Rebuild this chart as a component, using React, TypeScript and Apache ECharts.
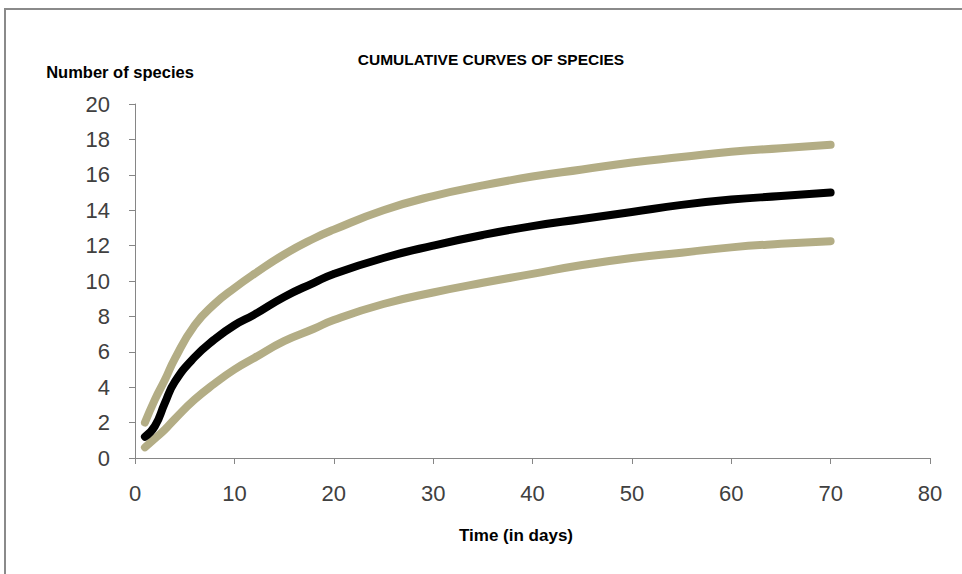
import React, { useEffect, useRef } from "react";
import * as echarts from "echarts";

const days = [1, 2, 3, 4, 6, 8, 10, 12, 15, 18, 20, 25, 30, 35, 40, 45, 50, 55, 60, 65, 70];
const upperValues = [2.0, 3.3, 4.4, 5.6, 7.5, 8.7, 9.6, 10.4, 11.5, 12.4, 12.9, 14.0, 14.8, 15.4, 15.9, 16.3, 16.7, 17.0, 17.3, 17.5, 17.7];
const meanValues = [1.2, 1.8, 3.1, 4.3, 5.7, 6.7, 7.5, 8.1, 9.1, 9.9, 10.4, 11.3, 12.0, 12.6, 13.1, 13.5, 13.9, 14.3, 14.6, 14.8, 15.0];
const lowerValues = [0.6, 1.1, 1.6, 2.2, 3.3, 4.2, 5.0, 5.65, 6.6, 7.3, 7.8, 8.7, 9.35, 9.9, 10.4, 10.9, 11.3, 11.6, 11.9, 12.1, 12.25];

const title = "CUMULATIVE CURVES OF SPECIES";
const yName = "Number of species";
const xName = "Time (in days)";

const FONT = "'Liberation Sans', Arial, sans-serif";

const pairs = (vals: number[]) => days.map((d, i) => [d, vals[i]]);

export default function App() {
  const ref = useRef<HTMLDivElement>(null);
  useEffect(() => {
    if (!ref.current) return;
    const chart = echarts.init(ref.current, null, { renderer: "svg" });
    const lineSeries = (name: string, vals: number[], color: string, z: number) => ({
      type: "line",
      name,
      data: pairs(vals),
      smooth: 0.5,
      showSymbol: false,
      z,
      lineStyle: { color, width: 8, cap: "round", join: "round" },
    });
    chart.setOption({
      animation: false,
      backgroundColor: "#ffffff",
      textStyle: { fontFamily: FONT },
      graphic: [
        {
          type: "rect",
          shape: { x: 5, y: 9, width: 1000, height: 700 },
          style: { fill: "none", stroke: "#8a8a8a", lineWidth: 2 },
          silent: true,
        },
        {
          type: "text",
          x: 491,
          y: 59,
          style: { text: title, fontFamily: FONT, fontWeight: "bold", fontSize: 15.5, fill: "#000", textAlign: "center", textVerticalAlign: "middle" },
        },
        {
          type: "text",
          x: 120,
          y: 72,
          style: { text: yName, fontFamily: FONT, fontWeight: "bold", fontSize: 16.5, fill: "#000", textAlign: "center", textVerticalAlign: "middle" },
        },
        {
          type: "text",
          x: 516,
          y: 535,
          style: { text: xName, fontFamily: FONT, fontWeight: "bold", fontSize: 17, fill: "#000", textAlign: "center", textVerticalAlign: "middle" },
        },
      ],
      grid: { left: 135, right: 32, top: 104, bottom: 116 },
      xAxis: {
        type: "value",
        min: 0,
        max: 80,
        interval: 10,
        axisLine: { lineStyle: { color: "#868686", width: 1 } },
        axisTick: { show: true, length: 6, lineStyle: { color: "#868686" } },
        axisLabel: { fontSize: 22, color: "#404040", margin: 24, fontFamily: FONT },
        splitLine: { show: false },
      },
      yAxis: {
        type: "value",
        min: 0,
        max: 20,
        interval: 2,
        axisLine: { show: true, lineStyle: { color: "#868686", width: 1 } },
        axisTick: { show: true, length: 6, lineStyle: { color: "#868686" } },
        axisLabel: { fontSize: 22, color: "#404040", margin: 25, fontFamily: FONT },
        splitLine: { show: false },
      },
      series: [
        lineSeries("Lower", lowerValues, "#b3ad85", 2),
        lineSeries("Upper", upperValues, "#b3ad85", 2),
        lineSeries("Mean", meanValues, "#000000", 3),
      ],
    });
    return () => chart.dispose();
  }, []);
  return <div ref={ref} style={{ position: "fixed", left: 0, top: 0, width: 962, height: 574 }} />;
}
